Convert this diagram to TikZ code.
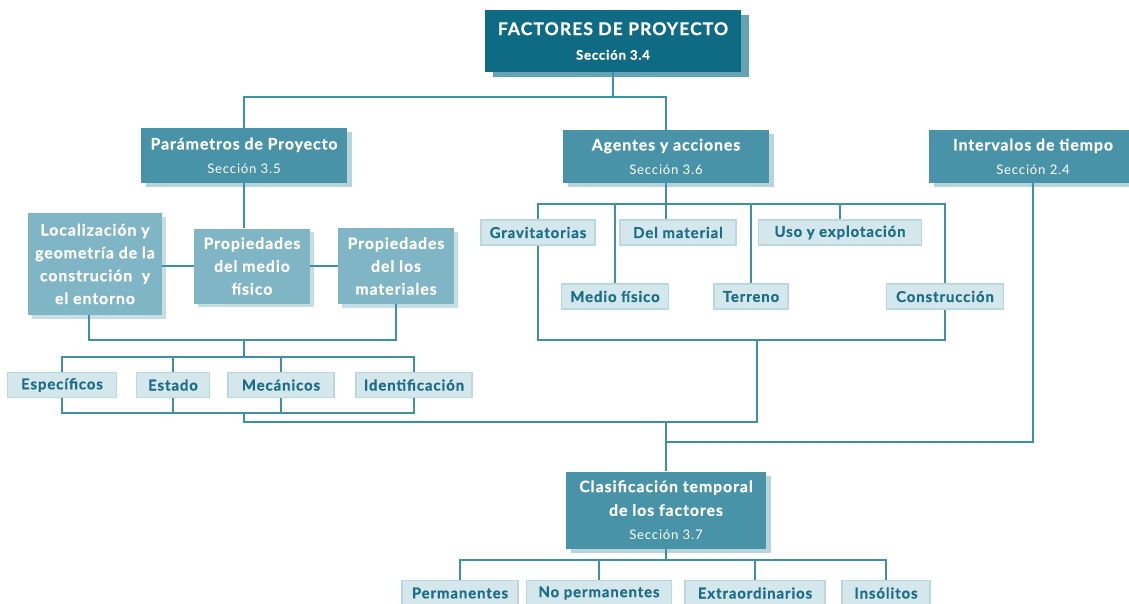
\documentclass[tikz,border=0pt]{standalone}
\usepackage{fontspec}
\setmainfont{Lato}[LetterSpace=6, BoldFeatures={FakeBold=0.8}]
\usepackage{xcolor}
\usetikzlibrary{shadows, positioning}

\definecolor{tealdark}{HTML}{0E6B83}
\definecolor{tealmid}{HTML}{4893A8}
\definecolor{teallight}{HTML}{7FB5C4}
\definecolor{tealpale}{HTML}{D3E7ED}
\definecolor{tealline}{HTML}{4190A5}
\definecolor{tealtext}{HTML}{1D6E84}

\tikzset{
  boxsize/.style 2 args={minimum width=#1*0.02cm, minimum height=#2*0.02cm},
  anybox/.style={rectangle, inner sep=0pt, align=center},
  mainbox/.style={anybox, fill=tealdark, text=white, font=\bfseries\fontsize{10}{14}\selectfont,
    general shadow={fill=tealmid!85, shadow xshift=4.5pt, shadow yshift=-3pt}},
  secbox/.style={anybox, fill=tealmid, text=white, font=\bfseries\fontsize{9}{13.5}\selectfont,
    general shadow={fill=tealmid!40, shadow xshift=3pt, shadow yshift=-2.5pt}},
  propbox/.style={anybox, fill=teallight, text=white, font=\bfseries\fontsize{9}{13}\selectfont,
    general shadow={fill=teallight!45, shadow xshift=2.5pt, shadow yshift=-2pt}},
  leafbox/.style={anybox, fill=tealpale, draw=tealline!35, line width=0.6pt, text=tealtext,
    font=\bfseries\fontsize{8.5}{10}\selectfont, boxsize={#1}{25}},
  link/.style={draw=tealline, line width=1.1pt}
}

\begin{document}
\begin{tikzpicture}[x=0.02cm, y=-0.02cm]
\useasboundingbox (0,0) rectangle (1129,603);

% main boxes
\node (top) [mainbox, boxsize={256}{62}] at (613,41) {FACTORES DE PROYECTO\\{\fontsize{7.5}{10}\selectfont Sección 3.4}};
\node (param) [secbox, boxsize={206}{55}] at (244,155.5) {Parámetros de Proyecto\\{\mdseries\fontsize{7.5}{10}\selectfont Sección 3.5}};
\node (agentes) [secbox, boxsize={206}{53}] at (666,156.5) {Agentes y acciones\\{\mdseries\fontsize{7.5}{10}\selectfont Sección 3.6}};
\node (inter) [secbox, boxsize={208}{53}] at (1033,156.5) {Intervalos de tiempo\\{\mdseries\fontsize{7.5}{10}\selectfont Sección 2.4}};
\node (clas) [secbox, boxsize={200}{77}] at (666,510) {Clasificación temporal\\de los factores\\{\mdseries\fontsize{7.5}{10}\selectfont Sección 3.7}};

% propiedades
\node (loc) [propbox, boxsize={134}{102}] at (95,264) {Localización y\\geometría de la\\construción\ \ y\\el entorno};
\node (medio) [propbox, boxsize={116}{75}] at (252,266) {Propiedades\\del medio\\físico};
\node (mat) [propbox, boxsize={116}{76}] at (396,266) {Propiedades\\del los\\materiales};

% hojas
\node (espec) [leafbox=109] at (62,385) {Específicos};
\node (estado) [leafbox=73] at (173,385) {Estado};
\node (mec) [leafbox=106] at (281,385) {Mecánicos};
\node (ident) [leafbox=116] at (414,385) {Identificación};

\node (grav) [leafbox=114] at (538,232.5) {Gravitatorias};
\node (delmat) [leafbox=116] at (678,232.5) {Del material};
\node (uso) [leafbox=163] at (840,232.5) {Uso y explotación};
\node (mfis) [leafbox=107] at (615,296.5) {Medio físico};
\node (terreno) [leafbox=74] at (751,296.5) {Terreno};
\node (constr) [leafbox=117] at (945,296.5) {Construcción};

\node (perm) [leafbox=116] at (460,593) {Permanentes};
\node (noperm) [leafbox=145] at (599,593) {No permanentes};
\node (extra) [leafbox=140] at (755,593) {Extraordinarios};
\node (ins) [leafbox=88] at (886,593) {Insólitos};

% puntos de union
\coordinate (jtop) at (613,97);
\coordinate (jloc) at (89,340);
\coordinate (jprop) at (244,340);
\coordinate (jhi) at (244,357);
\coordinate (jlo) at (244,413);
\coordinate (jag) at (666,204);
\coordinate (jagb) at (757,340);
\coordinate (jmid) at (757,422);
\coordinate (jclas) at (666,422);
\coordinate (jint) at (666,442);
\coordinate (jbot) at (666,560);

% conectores
\draw [link] (top) -- (jtop);
\draw [link] (param) |- (jtop) -| (agentes);
\draw [link] (param) -- (param |- medio.north);
\draw [link] (loc.east |- medio) -- (medio);
\draw [link] (medio) -- (mat);
\draw [link] (loc.south -| jloc) -- (jloc) -| (mat);
\draw [link] (jprop) -- (jhi);
\draw [link] (espec) |- (jhi) -| (ident);
\draw [link] (estado) -- (estado |- jhi);
\draw [link] (mec) -- (mec |- jhi);
\draw [link] (espec) |- (jlo) -| (ident);
\draw [link] (estado) -- (estado |- jlo);
\draw [link] (mec) -- (mec |- jlo);
\draw [link] (jlo) |- (jmid) -- (jagb);

\draw [link] (agentes) -- (jag);
\draw [link] (grav) |- (jag) -| (constr);
\draw [link] (jag) -- (delmat.north -| jag);
\draw [link] (mfis) -- (mfis |- jag);
\draw [link] (terreno) -- (terreno |- jag);
\draw [link] (uso) -- (uso |- jag);
\draw [link] (grav) |- (jagb) -| (constr);

\draw [link] (jclas) -- (clas);
\draw [link] (inter) |- (jint);
\draw [link] (clas) -- (jbot);
\draw [link] (perm) |- (jbot) -| (ins);
\draw [link] (noperm) -- (noperm |- jbot);
\draw [link] (extra) -- (extra |- jbot);
\end{tikzpicture}
\end{document}
